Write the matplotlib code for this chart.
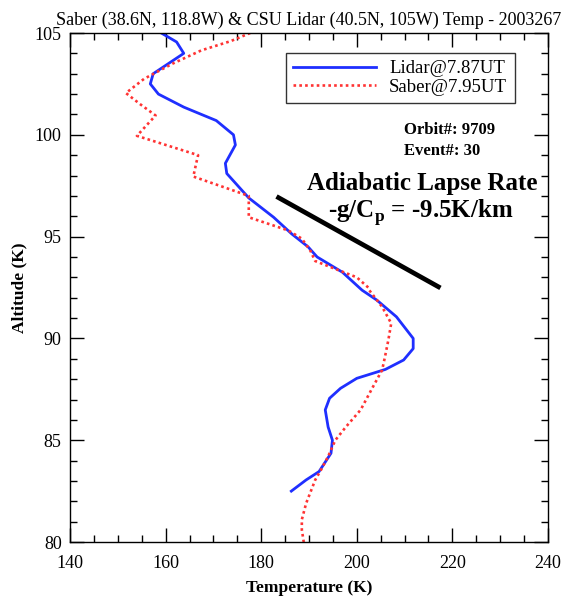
import matplotlib
matplotlib.use("Agg")
import matplotlib.pyplot as plt
from matplotlib.ticker import MultipleLocator

plt.rcParams['font.family'] = ['Liberation Serif', 'DejaVu Serif']

# Lidar temperature profile (K) vs altitude (km)
lidar_alt = [105.0, 104.56, 104.0, 103.0, 102.5, 102.0, 101.36, 101.0, 100.7, 100.0,
             99.5, 98.6, 98.1, 96.9, 95.95, 95.13, 94.5, 94.0, 93.25, 92.37,
             91.88, 91.06, 90.0, 89.5, 88.94, 88.48, 88.04, 87.55, 87.06, 86.49,
             85.65, 85.0, 84.36, 83.46, 83.05, 82.5]
lidar_temp = [159.1, 162.3, 163.8, 157.4, 156.8, 158.5, 163.8, 167.5, 170.6, 174.2,
              174.6, 172.5, 172.8, 177.4, 182.6, 186.4, 189.8, 191.7, 197.0, 201.1,
              204.2, 208.3, 211.8, 211.8, 209.8, 206.0, 200.0, 196.6, 194.3, 193.4,
              194.0, 194.9, 194.6, 192.1, 189.4, 186.3]

# SABER temperature profile
saber_alt = [105.0, 104.6, 104.15, 103.5, 102.75, 102.05, 101.5, 100.95, 99.95, 99.0,
             98.6, 97.95, 97.0, 95.95, 95.3, 94.9, 94.3, 93.8, 93.0, 92.5,
             92.37, 91.55, 90.74, 89.92, 89.1, 88.45, 87.63, 86.49, 85.65, 85.0,
             84.2, 83.54, 83.05, 81.9, 81.1, 80.6, 80.0]
saber_temp = [177.7, 173.6, 167.5, 161.5, 155.5, 151.7, 154.7, 157.9, 154.0, 166.8,
              166.4, 165.8, 177.4, 177.4, 185.7, 188.5, 190.3, 191.3, 200.0, 202.4,
              202.6, 205.3, 207.2, 206.6, 205.9, 205.3, 203.4, 200.8, 197.7, 195.5,
              194.0, 192.5, 191.3, 189.4, 188.5, 188.5, 188.9]

# Adiabatic lapse rate reference line
lapse_temp = [183.2, 217.5]
lapse_alt = [96.97, 92.48]

fig = plt.figure(figsize=(5.65, 5.98), dpi=100)
ax = fig.add_axes([0.1239, 0.0936, 0.846, 0.8512])

ax.plot(lidar_temp, lidar_alt, color='#1f2fff', lw=2.0, label='Lidar@7.87UT')
ax.plot(saber_temp, saber_alt, color='#ff3333', lw=1.9, linestyle=(0, (1, 1.2)),
        label='Saber@7.95UT')
ax.plot(lapse_temp, lapse_alt, color='black', lw=3.4, solid_capstyle='butt')

ax.set_xlim(140, 240)
ax.set_ylim(80, 105)
ax.xaxis.set_major_locator(MultipleLocator(20))
ax.xaxis.set_minor_locator(MultipleLocator(5))
ax.yaxis.set_major_locator(MultipleLocator(5))
ax.yaxis.set_minor_locator(MultipleLocator(1))
ax.tick_params(which='both', direction='in', top=True, right=True, labelsize=13, width=1)
ax.tick_params(which='major', length=10)
ax.tick_params(which='minor', length=5)
ax.tick_params(axis='x', which='major', pad=9)
ax.tick_params(axis='y', which='major', pad=6)
for s in ax.spines.values():
    s.set_linewidth(1)

ax.set_title('Saber (38.6N, 118.8W) & CSU Lidar (40.5N, 105W) Temp - 2003267',
             fontsize=13, pad=6)
ax.set_xlabel('Temperature (K)', fontsize=12.5, fontweight='bold', labelpad=6)
ax.set_ylabel('Altitude (K)', fontsize=12.5, fontweight='bold', labelpad=5)

leg = ax.legend(loc='upper right', bbox_to_anchor=(0.93, 0.961), fontsize=13.5,
                handlelength=4.4, frameon=True, fancybox=False, edgecolor='black',
                borderpad=0.4, labelspacing=0.05, handletextpad=0.7, borderaxespad=0)
leg.get_frame().set_linewidth(1)

ax.text(0.699, 0.810, 'Orbit#: 9709', transform=ax.transAxes, fontsize=12,
        fontweight='bold', ha='left', va='center')
ax.text(0.699, 0.769, 'Event#: 30', transform=ax.transAxes, fontsize=12,
        fontweight='bold', ha='left', va='center')
ax.text(0.736, 0.705, 'Adiabatic Lapse Rate', transform=ax.transAxes, fontsize=18,
        fontweight='bold', ha='center', va='center')
ax.text(0.734, 0.648, r'-g/C$_\mathregular{p}$ = -9.5K/km', transform=ax.transAxes,
        fontsize=18, fontweight='bold', ha='center', va='center')

fig.savefig('out.png', dpi=100)
